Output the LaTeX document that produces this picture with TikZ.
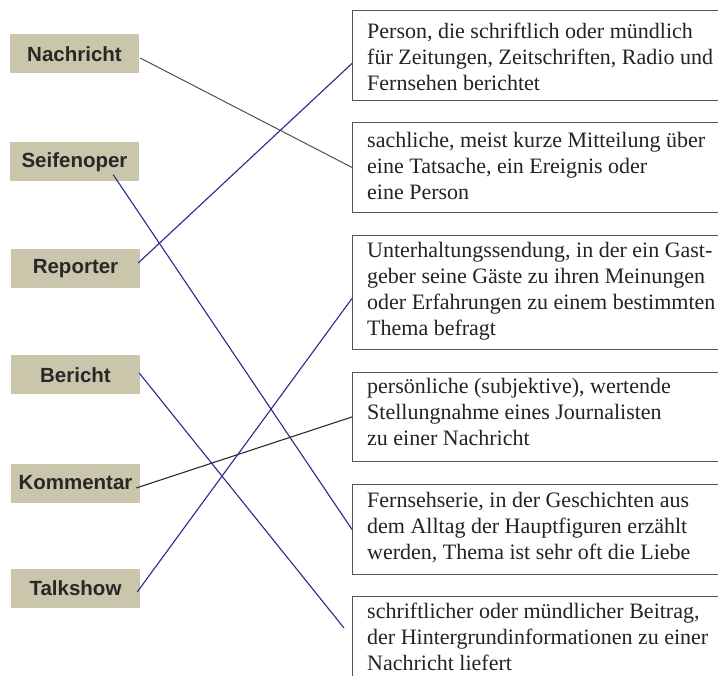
\documentclass[tikz,border=0pt]{standalone}
\usepackage{fontspec}
\setmainfont{Liberation Serif}
\newfontfamily\labelfont{Liberation Sans}
\definecolor{labelfill}{RGB}{201,198,172}
\definecolor{labeltext}{RGB}{40,40,40}
\definecolor{boxline}{RGB}{85,85,85}
\definecolor{deftextcol}{RGB}{35,35,35}
\definecolor{navy}{RGB}{40,42,140}
\definecolor{grayline}{RGB}{80,80,80}
\definecolor{darkline}{RGB}{45,45,45}
\tikzset{
  wordbox/.style={fill=labelfill, draw=none, minimum width=129pt, minimum height=39pt,
    inner sep=0pt, text=labeltext, font=\labelfont\bfseries\fontsize{20.5}{23}\selectfont},
  defbox/.style={draw=boxline, line width=0.9pt, anchor=north west, minimum width=380pt,
    inner sep=0pt},
  deftext/.style={anchor=north west, inner sep=0pt, align=left, text=deftextcol,
    font=\fontsize{22}{26}\selectfont},
  blueline/.style={draw=navy, line width=1.1pt},
  grayconn/.style={draw=grayline, line width=1pt},
  darkconn/.style={draw=darkline, line width=1.1pt}
}
\begin{document}
\begin{tikzpicture}[x=1pt,y=-1pt]
\useasboundingbox[fill=white] (0,0) rectangle (718,676);
% left words
\node[wordbox] (nach) at (74.5,54) {Nachricht};
\node[wordbox] (seif) at (74.5,162) {Seifenoper};
\node[wordbox] (rep)  at (75.5,269) {Reporter};
\node[wordbox] (ber)  at (75.5,375) {Bericht};
\node[wordbox] (komm) at (75.5,483) {Kommentar};
\node[wordbox] (talk) at (75.5,588) {Talkshow};
% right definition boxes
\node[defbox, minimum height=90pt]  (d1) at (352,10)  {};
\node[defbox, minimum height=90pt]  (d2) at (352,122) {};
\node[defbox, minimum height=114pt] (d3) at (352,235) {};
\node[defbox, minimum height=89pt]  (d4) at (352,372) {};
\node[defbox, minimum height=90pt]  (d5) at (352,484) {};
\node[defbox, minimum height=110pt] (d6) at (352,596) {};
\node[deftext] (t1) at (367,23)  {Person, die schriftlich oder mündlich\\für Zeitungen, Zeitschriften, Radio und\\Fernsehen berichtet};
\node[deftext] (t2) at (367,132) {sachliche, meist kurze Mitteilung über\\eine Tatsache, ein Ereignis oder\\eine Person};
\node[deftext] (t3) at (367,242) {Unterhaltungssendung, in der ein Gast-\\geber seine Gäste zu ihren Meinungen\\oder Erfahrungen zu einem bestimmten\\Thema befragt};
\node[deftext] (t4) at (367,378) {persönliche (subjektive), wertende\\Stellungnahme eines Journalisten\\zu einer Nachricht};
\node[deftext] (t5) at (367,492) {Fernsehserie, in der Geschichten aus\\dem Alltag der Hauptfiguren erzählt\\werden, Thema ist sehr oft die Liebe};
\node[deftext] (t6) at (367,603) {schriftlicher oder mündlicher Beitrag,\\der Hintergrundinformationen zu einer\\Nachricht liefert};
% connectors
\coordinate (berend) at ([shift={(-8,32)}]d6.north west);
\draw[grayconn] ([shift={(1,4)}]nach.east) -- (d2.west);
\draw[blueline] ([shift={(-26,-7)}]seif.south east) -- (d5.west);
\draw[blueline] ([shift={(-2,-6)}]rep.east) -- ([shift={(0,8)}]d1.west);
\draw[blueline] ([shift={(-1,-2)}]ber.east) -- (berend);
\draw[darkconn] ([shift={(-4,5)}]komm.east) -- (d4.west);
\draw[blueline] ([shift={(-3,4)}]talk.east) -- ([shift={(0,6)}]d3.west);
\end{tikzpicture}
\end{document}
